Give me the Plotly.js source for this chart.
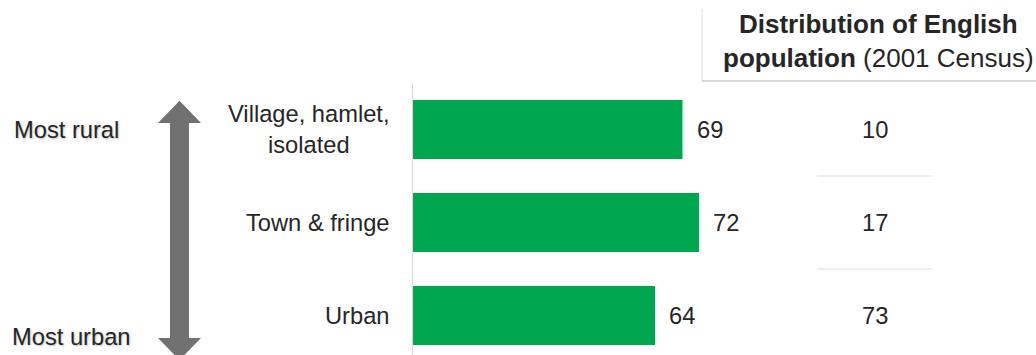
<!DOCTYPE html>
<html>
<head>
<meta charset="utf-8">
<script src="https://cdn.plot.ly/plotly-3.0.1.min.js"></script>
<style>html,body{margin:0;padding:0;background:#fff;}#chart{width:1036px;height:355px;}</style>
</head>
<body>
<div id="chart"></div>
<script>
// ---- data ----
const categories = ["Village, hamlet,<br>isolated", "Town & fringe", "Urban"];
const scores = [69, 72, 64];
const populationShare = [10, 17, 73];
const columnTitle = "<b>Distribution of English<br>population</b> (2001 Census)";
const arrowTopLabel = "Most rural";
const arrowBottomLabel = "Most urban";

// ---- geometry helpers (layout only) ----
const FW = 1036, FH = 355;
const M = {l: 413, r: 236, t: 83, b: 0};
const PW = FW - M.l - M.r, PH = FH - M.t - M.b;
const px = x => (x - M.l) / PW;
const py = y => 1 - (y - M.t) / PH;

const FONT = '"Liberation Sans", Arial, sans-serif';
const TXT = '#262626';
const FS = 23.7;

const xMin = 20;
const pxPerUnit = 5.5;

// arrow polygon in pixel space
const arrowPts = [[179.5,100.7],[201,123],[189,123],[189,338],[201,338],[179.5,360],[158,338],[170,338],[170,123],[158,123]];
const arrowPath = 'M' + arrowPts.map(p => px(p[0]).toFixed(5) + ',' + py(p[1]).toFixed(5)).join(' L') + ' Z';

const trace = {
  type: 'bar',
  orientation: 'h',
  x: scores,
  y: categories,
  marker: {color: '#00a650', line: {width: 0}},
  width: 0.634,
  hoverinfo: 'none'
};

const annotations = [];
categories.forEach((c, i) => {
  annotations.push({xref: 'paper', yref: 'y', x: 0, y: c, text: c, xanchor: 'right', yanchor: 'middle',
    xshift: -21, align: 'center', showarrow: false, font: {family: FONT, size: FS, color: TXT}});
  annotations.push({xref: 'x', yref: 'y', x: scores[i], y: c, text: String(scores[i]), xanchor: 'left', yanchor: 'middle',
    xshift: 12, showarrow: false, font: {family: FONT, size: FS, color: TXT}});
  annotations.push({xref: 'paper', yref: 'y', x: px(875), y: c, text: String(populationShare[i]), xanchor: 'center', yanchor: 'middle',
    showarrow: false, font: {family: FONT, size: FS, color: TXT}});
});
annotations.push({xref: 'paper', yref: 'paper', x: px(878), y: py(7), text: columnTitle, xanchor: 'center', yanchor: 'top',
  align: 'center', showarrow: false, font: {family: FONT, size: 26, color: TXT}});
annotations.push({xref: 'paper', yref: 'paper', x: px(12), y: py(130), text: arrowTopLabel, xanchor: 'left', yanchor: 'middle',
  showarrow: false, font: {family: FONT, size: FS, color: TXT, shadow: '1px 1px 2px rgba(0,0,0,0.25)'}});
annotations.push({xref: 'paper', yref: 'paper', x: px(10), y: py(337), text: arrowBottomLabel, xanchor: 'left', yanchor: 'middle',
  showarrow: false, font: {family: FONT, size: FS, color: TXT, shadow: '1px 1px 2px rgba(0,0,0,0.25)'}});

const shapes = [
  {type: 'path', xref: 'paper', yref: 'paper', path: arrowPath, fillcolor: '#717171', line: {width: 0}},
  // title panel edges
  {type: 'line', xref: 'paper', yref: 'paper', x0: px(702), x1: px(702), y0: py(9), y1: py(81), line: {color: '#e8e8e8', width: 1.5}},
  {type: 'line', xref: 'paper', yref: 'paper', x0: px(702), x1: px(1036), y0: py(81), y1: py(81), line: {color: '#d9d9d9', width: 2}},
  // separators between categories in right column
  {type: 'line', xref: 'paper', yref: 'y', x0: px(817), x1: px(932), y0: 0.5, y1: 0.5, line: {color: '#eeeeee', width: 2}},
  {type: 'line', xref: 'paper', yref: 'y', x0: px(817), x1: px(932), y0: 1.5, y1: 1.5, line: {color: '#eeeeee', width: 2}}
];

const layout = {
  width: FW, height: FH,
  margin: M,
  paper_bgcolor: '#ffffff', plot_bgcolor: '#ffffff',
  showlegend: false,
  font: {family: FONT, color: TXT},
  xaxis: {range: [xMin, xMin + PW / pxPerUnit], visible: false, fixedrange: true},
  yaxis: {type: 'category', categoryorder: 'array', categoryarray: categories,
    range: [-0.5 + PH / 93, -0.5], showticklabels: false, ticks: '', showgrid: false, zeroline: false,
    showline: true, linecolor: '#d9d9d9', linewidth: 1.5, fixedrange: true},
  annotations: annotations,
  shapes: shapes
};

Plotly.newPlot('chart', [trace], layout, {displayModeBar: false, staticPlot: true});
</script>
</body>
</html>
